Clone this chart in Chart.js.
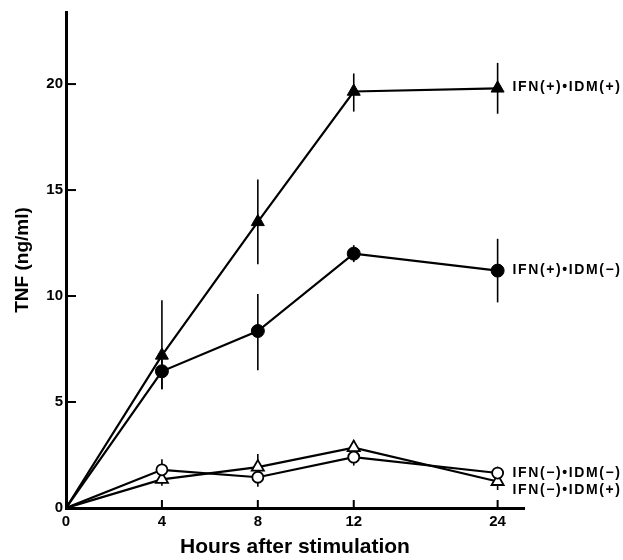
<!DOCTYPE html>
<html>
<head>
<meta charset="utf-8">
<script src="https://cdn.jsdelivr.net/npm/chart.js@4/dist/chart.umd.min.js"></script>
<style>
  html, body { margin: 0; padding: 0; background: #fff; }
  #wrap { width: 623px; height: 560px; position: relative; }
</style>
</head>
<body>
<div id="wrap"><canvas id="c"></canvas></div>
<script>
// ---- Data ----
const hours = [0, 4, 8, 12, 24];
const xTickHours = [0, 4, 8, 12, 24];
const yTicks = [0, 5, 10, 15, 20];

const seriesNames = ['IFN(+)•IDM(+)', 'IFN(+)•IDM(−)', 'IFN(−)•IDM(−)', 'IFN(−)•IDM(+)'];

const ifnPosIdmPos = [0, 7.2, 13.5, 19.65, 19.8];
const ifnPosIdmPosHi = [null, 9.8, 15.5, 20.5, 21.0];
const ifnPosIdmPosLo = [null, 5.6, 11.5, 18.7, 18.6];

const ifnPosIdmNeg = [0, 6.45, 8.35, 12.0, 11.2];
const ifnPosIdmNegHi = [null, 7.0, 10.1, 12.4, 12.7];
const ifnPosIdmNegLo = [null, 5.6, 6.5, 11.6, 9.7];

const ifnNegIdmNeg = [0, 1.8, 1.45, 2.4, 1.65];
const ifnNegIdmNegHi = [null, 2.3, 1.8, 2.7, 1.95];
const ifnNegIdmNegLo = [null, 1.5, 1.0, 2.0, 1.4];

const ifnNegIdmPos = [0, 1.35, 1.93, 2.85, 1.25];
const ifnNegIdmPosHi = [null, 1.6, 2.55, 3.2, 1.45];
const ifnNegIdmPosLo = [null, 1.05, 1.7, 2.6, 0.85];

// Broken time axis: 12 -> 24 h drawn at half scale
function axisPos(h) { return h <= 12 ? h : 12 + (h - 12) / 2; }
function axisHour(p) { return p <= 12 ? p : 12 + (p - 12) * 2; }

function pts(vals) { return hours.map((h, i) => ({ x: axisPos(h), y: vals[i] })); }

const FONT = '"Liberation Sans", Arial, sans-serif';

function ds(name, vals, hi, lo, style, radius, filled, labelDy) {
  return {
    label: name,
    data: pts(vals),
    errHi: hi, errLo: lo, labelDy: labelDy,
    borderColor: '#000',
    borderWidth: 2.2,
    pointStyle: style,
    pointRadius: (c) => c.dataIndex === 0 ? 0 : radius,
    pointBackgroundColor: filled ? '#000' : '#fff',
    pointBorderColor: '#000',
    pointBorderWidth: filled ? 1 : 1.8,
    tension: 0,
    fill: false
  };
}

const errorBars = {
  id: 'errorBars',
  beforeDatasetsDraw(chart) {
    const { ctx, scales: { x, y } } = chart;
    ctx.save();
    ctx.strokeStyle = '#000';
    ctx.lineWidth = 1.6;
    chart.data.datasets.forEach((d) => {
      d.data.forEach((p, i) => {
        if (d.errHi[i] == null) return;
        const px = x.getPixelForValue(p.x);
        ctx.beginPath();
        ctx.moveTo(px, y.getPixelForValue(d.errHi[i]));
        ctx.lineTo(px, y.getPixelForValue(d.errLo[i]));
        ctx.stroke();
      });
    });
    ctx.restore();
  }
};

const seriesLabels = {
  id: 'seriesLabels',
  afterDatasetsDraw(chart) {
    const { ctx, scales: { x, y } } = chart;
    ctx.save();
    ctx.fillStyle = '#000';
    ctx.font = 'bold 14px ' + FONT;
    ctx.textBaseline = 'middle';
    ctx.textAlign = 'left';
    try { ctx.letterSpacing = '1.6px'; } catch (e) {}
    chart.data.datasets.forEach((d) => {
      const last = d.data[d.data.length - 1];
      const px = x.getPixelForValue(last.x) + 15;
      const py = y.getPixelForValue(last.y) + d.labelDy;
      ctx.fillText(d.label, px, py);
    });
    ctx.restore();
  }
};

const innerTicks = {
  id: 'innerTicks',
  afterDraw(chart) {
    const { ctx, scales: { x, y } } = chart;
    ctx.save();
    ctx.strokeStyle = '#000';
    ctx.lineWidth = 2;
    const x0 = x.getPixelForValue(0);
    const y0 = y.getPixelForValue(0);
    y.ticks.forEach((t) => {
      if (t.value === 0) return;
      const py = y.getPixelForValue(t.value);
      ctx.beginPath(); ctx.moveTo(x0, py); ctx.lineTo(x0 + 10, py); ctx.stroke();
    });
    x.ticks.forEach((t) => {
      if (t.value === 0) return;
      const px = x.getPixelForValue(t.value);
      ctx.beginPath(); ctx.moveTo(px, y0); ctx.lineTo(px, y0 - 8); ctx.stroke();
    });
    ctx.restore();
  }
};

new Chart(document.getElementById('c'), {
  type: 'line',
  data: {
    datasets: [
      ds(seriesNames[0], ifnPosIdmPos, ifnPosIdmPosHi, ifnPosIdmPosLo, 'triangle', 7.5, true, -1),
      ds(seriesNames[1], ifnPosIdmNeg, ifnPosIdmNegHi, ifnPosIdmNegLo, 'circle', 6.5, true, 0),
      ds(seriesNames[2], ifnNegIdmNeg, ifnNegIdmNegHi, ifnNegIdmNegLo, 'circle', 5.5, false, 0),
      ds(seriesNames[3], ifnNegIdmPos, ifnNegIdmPosHi, ifnNegIdmPosLo, 'triangle', 7, false, 9)
    ]
  },
  options: {
    responsive: true,
    maintainAspectRatio: false,
    animation: false,
    layout: { padding: { top: 10, right: 99, left: 0, bottom: 0 } },
    plugins: { legend: { display: false }, tooltip: { enabled: false } },
    scales: {
      x: {
        type: 'linear',
        min: 0,
        max: 19.1,
        afterFit: (s) => { s.height = 52; },
        afterBuildTicks: (s) => { s.ticks = xTickHours.map(h => ({ value: axisPos(h) })); },
        ticks: {
          color: '#000',
          font: { family: FONT, size: 15, weight: 'bold' },
          padding: 5,
          maxRotation: 0,
          callback: (v) => String(axisHour(v))
        },
        grid: { display: true, drawOnChartArea: false, drawTicks: false },
        border: { display: true, color: '#000', width: 3 },
        title: {
          display: true,
          text: 'Hours after stimulation',
          color: '#000',
          font: { family: FONT, size: 21, weight: 'bold' },
          padding: { top: 0, bottom: 0 }
        }
      },
      y: {
        type: 'linear',
        min: 0,
        max: 23.4,
        afterFit: (s) => { s.width = 66; },
        afterBuildTicks: (s) => { s.ticks = yTicks.map(v => ({ value: v })); },
        ticks: {
          color: '#000',
          font: { family: FONT, size: 15, weight: 'bold' },
          padding: 3
        },
        grid: { display: true, drawOnChartArea: false, drawTicks: false },
        border: { display: true, color: '#000', width: 3 },
        title: {
          display: true,
          text: 'TNF (ng/ml)',
          color: '#000',
          font: { family: FONT, size: 19, weight: 'bold' },
          padding: { top: 11, bottom: 0 }
        }
      }
    }
  },
  plugins: [errorBars, seriesLabels, innerTicks]
});
</script>
</body>
</html>
